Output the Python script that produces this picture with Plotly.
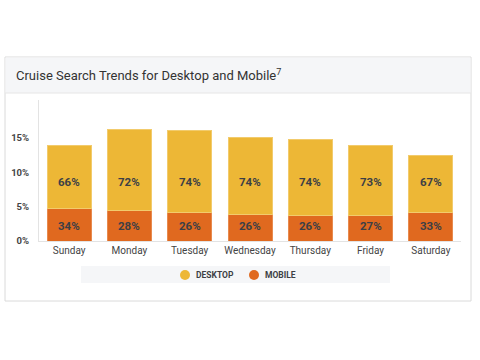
import plotly.graph_objects as go

days = ["Sunday", "Monday", "Tuesday", "Wednesday", "Thursday", "Friday", "Saturday"]
mobile = [4.7, 4.5, 4.15, 3.9, 3.75, 3.75, 4.1]
desktop = [9.2, 11.7, 11.85, 11.1, 10.95, 10.15, 8.3]
desktop_share = ["66%", "72%", "74%", "74%", "74%", "73%", "67%"]
mobile_share = ["34%", "28%", "26%", "26%", "26%", "27%", "33%"]
series_names = ["DESKTOP", "MOBILE"]
y_ticks = [0, 5, 10, 15]
y_tick_text = ["0%", "5%", "10%", "15%"]

C_DESK = "#EDB736"
C_MOB = "#E0691F"
FONT = "Roboto, Arial, sans-serif"
W, H = 480, 360

def px(x):
    return x / W

def py(y):
    return 1 - y / H

fig = go.Figure()
fig.add_trace(go.Bar(x=days, y=mobile, name=series_names[1],
                     marker=dict(color=C_MOB, line=dict(color="#E88A4E", width=1)),
                     showlegend=False, hoverinfo="skip"))
fig.add_trace(go.Bar(x=days, y=desktop, name=series_names[0],
                     marker=dict(color=C_DESK, line=dict(color="#F2CB6C", width=1)),
                     showlegend=False, hoverinfo="skip"))

annotations = []
for d, s in zip(days, desktop_share):
    annotations.append(dict(x=d, y=8.55, xref="x", yref="y", text="<b>" + s + "</b>", showarrow=False,
                            font=dict(family=FONT, size=11.5, color="#3d3f45")))
for d, s in zip(days, mobile_share):
    annotations.append(dict(x=d, y=2.2, xref="x", yref="y", text="<b>" + s + "</b>", showarrow=False,
                            font=dict(family=FONT, size=11.5, color="#3d3f45")))
annotations.append(dict(x=px(14), y=py(75), xref="paper", yref="paper", xanchor="left", yanchor="middle",
                        text="Cruise Search Trends for Desktop and Mobile<sup>7</sup>", showarrow=False,
                        font=dict(family=FONT, size=13, color="#333333")))

shapes = [
    dict(type="rect", xref="paper", yref="paper", x0=px(5), x1=px(471), y0=py(301), y1=py(57),
         line=dict(color="#dadada", width=1), fillcolor="white", layer="below"),
    dict(type="rect", xref="paper", yref="paper", x0=px(5.5), x1=px(470.5), y0=py(93), y1=py(57.5),
         line=dict(width=0), fillcolor="#f5f6f8", layer="below"),
    dict(type="line", xref="paper", yref="paper", x0=px(5), x1=px(471), y0=py(93), y1=py(93),
         line=dict(color="#e6e6e6", width=1), layer="below"),
    dict(type="rect", xref="paper", yref="paper", x0=px(81), x1=px(390), y0=py(283), y1=py(266),
         line=dict(width=0), fillcolor="#f5f6f8", layer="below"),
]

# custom legend (circles + labels)
legend_items = [(series_names[0], C_DESK, 185), (series_names[1], C_MOB, 254)]
for name, col, cx in legend_items:
    shapes.append(dict(type="circle", xref="paper", yref="paper", xsizemode="pixel", ysizemode="pixel",
                       xanchor=px(cx), yanchor=py(275), x0=-5, x1=5, y0=-5, y1=5,
                       fillcolor=col, line=dict(width=0)))
    annotations.append(dict(x=px(cx + 9), y=py(275), xref="paper", yref="paper", xanchor="left",
                            yanchor="middle", text="<b>" + name + "</b>", showarrow=False,
                            font=dict(family=FONT, size=8.5, color="#3d3f45")))

fig.update_layout(
    width=W, height=H, barmode="stack", bargap=0.27,
    margin=dict(l=0, r=0, t=0, b=0),
    paper_bgcolor="white", plot_bgcolor="rgba(0,0,0,0)",
    font=dict(family=FONT, color="#444444"),
    showlegend=False,
    xaxis=dict(domain=[px(39), px(461)], showgrid=False, showline=True, linecolor="#e3e3e3",
               ticks="", tickfont=dict(size=10, color="#444444"), automargin=False, fixedrange=True),
    yaxis=dict(domain=[py(241), py(100)], range=[0, 20.5], tickvals=y_ticks, ticktext=y_tick_text,
               showgrid=False, zeroline=False, showline=True, linecolor="#e3e3e3", ticks="",
               ticklabelstandoff=7, fixedrange=True,
               tickfont=dict(size=9.5, color="#444444", weight="bold"), automargin=False),
    annotations=annotations, shapes=shapes,
)

fig.write_html("out.html", config={"displayModeBar": False, "staticPlot": True},
               post_script="document.body.style.margin='0';document.body.style.overflow='hidden';")
